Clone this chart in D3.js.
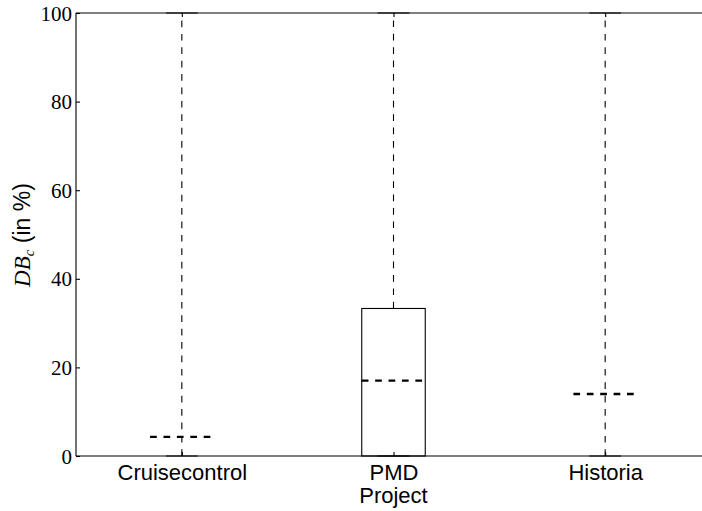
<!DOCTYPE html>
<html><head><meta charset="utf-8">
<script src="https://cdn.jsdelivr.net/npm/d3@7"></script>
<style>body{margin:0;background:#fff}</style>
</head><body>
<script>
const categories = ["Cruisecontrol", "PMD", "Historia"];
const whiskerLow = [0, 0, 0];
const q1 = [0, 0, 0];
const medians = [4.3, 17.0, 14.0];
const q3 = [0, 33.3, 0];
const whiskerHigh = [100, 100, 100];
const yTicks = [0, 20, 40, 60, 80, 100];

const W = 702, H = 511;
const svg = d3.select("body").append("svg").attr("width", W).attr("height", H);
const x = d3.scaleLinear().domain([0.5, 3.5]).range([76, 711]);
const y = d3.scaleLinear().domain([0, 100]).range([456, 13]);
const boxW = 0.3;
const dash = "6.7,6.7";

categories.forEach((c, i) => {
  const p = i + 1;
  const g = svg.append("g");
  g.append("line").attr("x1", x(p)).attr("x2", x(p)).attr("y1", y(q3[i])).attr("y2", y(whiskerHigh[i]))
    .attr("stroke", "#000").attr("stroke-width", 1.1).attr("stroke-dasharray", dash);
  g.append("line").attr("x1", x(p)).attr("x2", x(p)).attr("y1", y(q1[i])).attr("y2", y(whiskerLow[i]))
    .attr("stroke", "#000").attr("stroke-width", 1.1).attr("stroke-dasharray", dash);
  [whiskerLow[i], whiskerHigh[i]].forEach(v => {
    g.append("line").attr("x1", x(p - boxW / 4)).attr("x2", x(p + boxW / 4)).attr("y1", y(v)).attr("y2", y(v))
      .attr("stroke", "#000").attr("stroke-width", 1.1);
  });
  g.append("rect").attr("x", x(p - boxW / 2)).attr("width", x(p + boxW / 2) - x(p - boxW / 2))
    .attr("y", y(q3[i])).attr("height", y(q1[i]) - y(q3[i]))
    .attr("fill", "none").attr("stroke", "#000").attr("stroke-width", 1.1);
  g.append("line").attr("x1", x(p - boxW / 2)).attr("x2", x(p + boxW / 2)).attr("y1", y(medians[i])).attr("y2", y(medians[i]))
    .attr("stroke", "#000").attr("stroke-width", 2.3).attr("stroke-dasharray", dash);
});

const sp = svg.append("g").attr("stroke", "#000").attr("stroke-width", 1.1);
sp.append("line").attr("x1", x(0.5)).attr("x2", x(3.5)).attr("y1", y(100)).attr("y2", y(100));
sp.append("line").attr("x1", x(0.5)).attr("x2", x(3.5)).attr("y1", y(0)).attr("y2", y(0));
sp.append("line").attr("x1", x(0.5)).attr("x2", x(0.5)).attr("y1", y(0)).attr("y2", y(100));
sp.append("line").attr("x1", x(3.5)).attr("x2", x(3.5)).attr("y1", y(0)).attr("y2", y(100));

const yAxis = d3.axisLeft(y).tickValues(yTicks).tickSize(-4).tickPadding(4).tickFormat(d3.format("d"));
const ya = svg.append("g").attr("transform", `translate(${x(0.5)},0)`).call(yAxis);
ya.select(".domain").remove();
ya.selectAll("line").attr("stroke", "#000").attr("stroke-width", 1.1);
ya.selectAll("text").attr("font-family", "'Liberation Serif', serif").attr("font-size", 21).attr("fill", "#000")
  .attr("dy", "0.34em");

const xAxis = d3.axisBottom(x).tickValues([1, 2, 3]).tickSize(-4).tickPadding(8).tickFormat(d => categories[d - 1]);
const xa = svg.append("g").attr("transform", `translate(0,${y(0)})`).call(xAxis);
xa.select(".domain").remove();
xa.selectAll("line").attr("stroke", "#000").attr("stroke-width", 1.1);
xa.selectAll("text").attr("font-family", "'Liberation Sans', Arial, sans-serif").attr("font-size", 22).attr("fill", "#000");

const xt = svg.append("g").attr("transform", `translate(0,${y(100)})`).call(d3.axisTop(x).tickValues([1, 2, 3]).tickSize(-4).tickFormat(""));
xt.select(".domain").remove();
xt.selectAll("line").attr("stroke", "#000").attr("stroke-width", 1.1);

svg.append("text").attr("x", x(2)).attr("y", 503).attr("text-anchor", "middle")
  .attr("font-family", "'Liberation Sans', Arial, sans-serif").attr("font-size", 22).text("Project");

const yl = svg.append("text").attr("transform", "translate(30,235) rotate(-90)").attr("text-anchor", "middle")
  .attr("font-size", 23);
yl.append("tspan").attr("font-family", "'Liberation Serif', serif").attr("font-style", "italic").text("DB");
yl.append("tspan").attr("font-family", "'Liberation Serif', serif").attr("font-style", "italic").attr("font-size", 15).attr("dy", 4).text("c");
yl.append("tspan").attr("font-family", "'Liberation Sans', Arial, sans-serif").attr("dy", -4).text(" (in %)");
</script>
</body></html>
